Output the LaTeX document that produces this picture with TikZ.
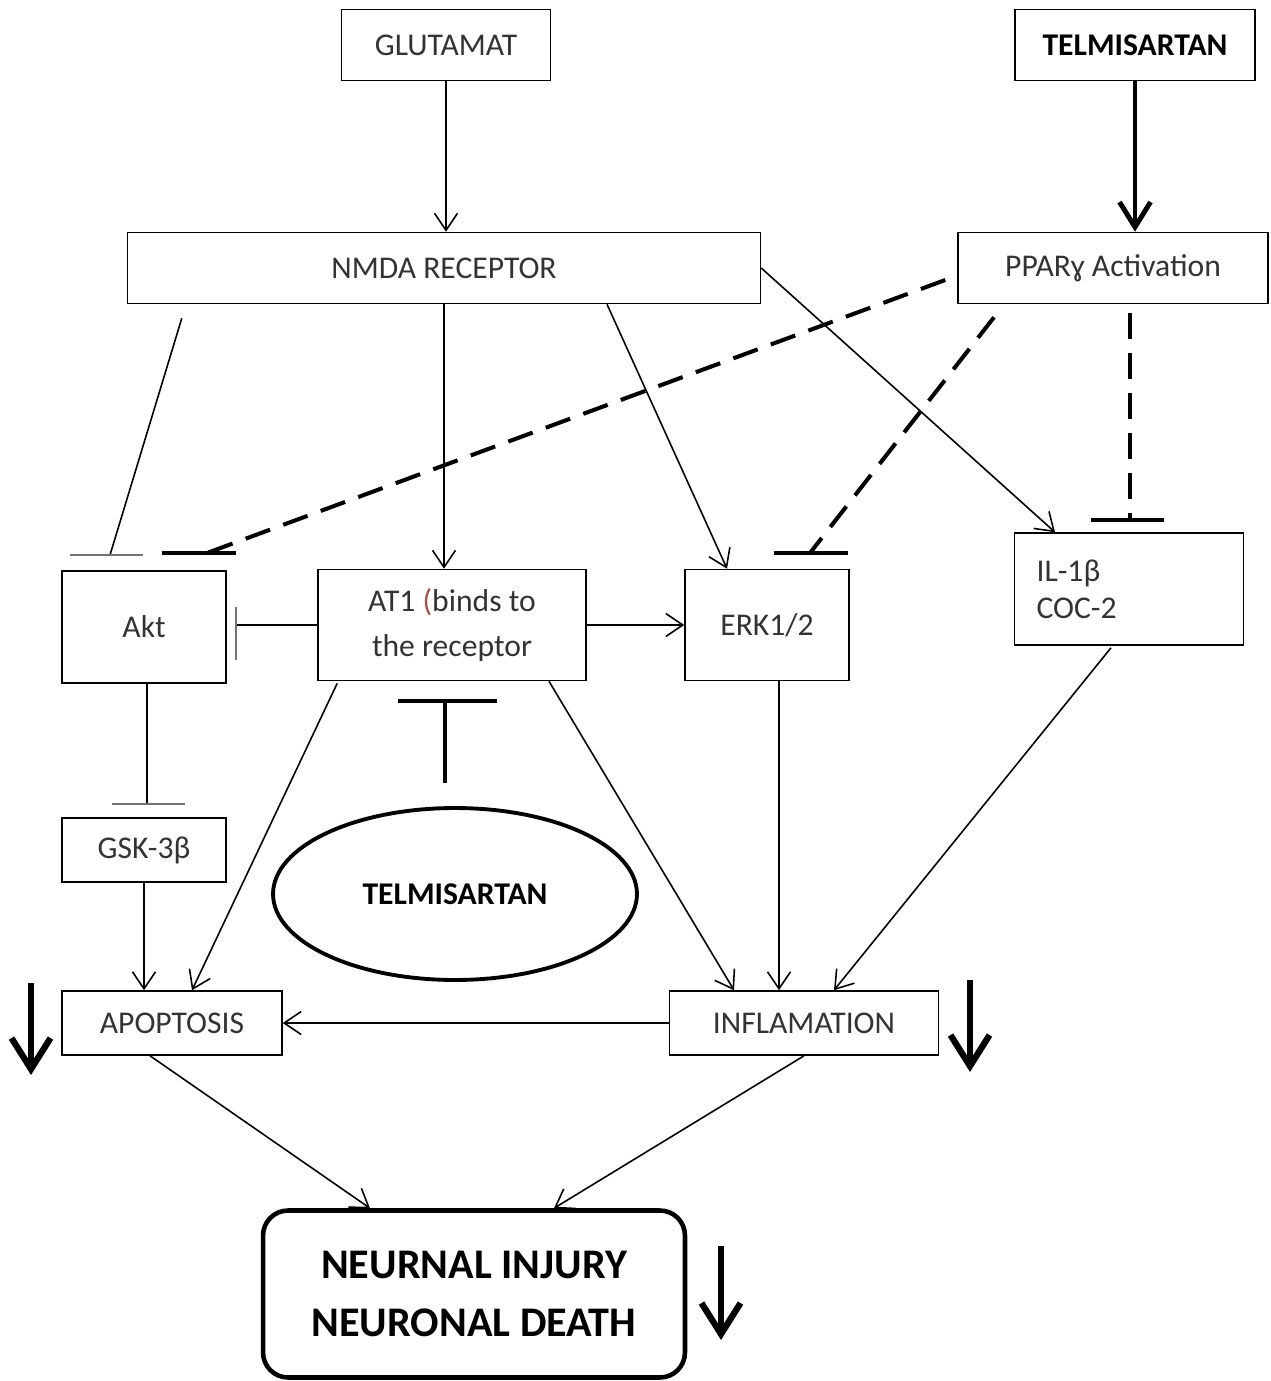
\documentclass[tikz,border=0pt]{standalone}
\usepackage{fontspec}
\setmainfont{Carlito}
\usetikzlibrary{arrows.meta,calc,shapes.geometric}
\definecolor{paren}{RGB}{160,80,70}

\begin{document}
\begin{tikzpicture}[x = 0.02cm, y = -0.02cm]
\tikzstyle{BoxStyle}=[draw, line width = 0.9pt,
                      inner sep = 0pt, align = center,
                      text = black!80,
                      font = \fontsize{18}{26}\selectfont]
\tikzstyle{EdgeStyle}=[line width = 0.9pt, -{Straight Barb[length = 0.34cm, width = 0.46cm]}]
\tikzstyle{BarStyle}=[line width = 0.9pt]
\tikzstyle{ThickStyle}=[line width = 2.3pt]
\tikzstyle{DashStyle}=[line width = 2.3pt, dash pattern = on 0.52cm off 0.28cm]
\tikzstyle{TopStyle}=[line width = 2.8pt, -{Straight Barb[length = 0.5cm, width = 0.62cm]}]
\tikzstyle{DownStyle}=[line width = 3.6pt, -{Straight Barb[length = 0.62cm, width = 0.78cm]}]
\useasboundingbox (0,0) rectangle (1270,1381);
% boxes
\node[BoxStyle, minimum width = 4.18cm, minimum height = 1.42cm] (glu) at (446,45) {GLUTAMAT};
\node[BoxStyle, minimum width = 4.8cm, minimum height = 1.42cm, text = black,
      font = \bfseries\fontsize{18}{22}\selectfont] (tel) at (1135,45) {TELMISARTAN};
\node[BoxStyle, minimum width = 12.66cm, minimum height = 1.42cm] (nmda) at (444,268) {NMDA RECEPTOR};
\node[BoxStyle, minimum width = 6.2cm, minimum height = 1.42cm] (ppar) at (1113,268) {PPARɣ Activation};
\node[BoxStyle, minimum width = 3.28cm, minimum height = 2.24cm] (akt) at (144,627) {Akt};
\node[BoxStyle, minimum width = 5.36cm, minimum height = 2.22cm] (at1) at (452,625) {AT1 {\color{paren}(}binds to\\the receptor};
\node[BoxStyle, minimum width = 3.28cm, minimum height = 2.22cm] (erk) at (767,625) {ERK1/2};
\node[BoxStyle, text width = 3.7cm, inner xsep = 0.44cm, minimum height = 2.24cm, align = left,
      font = \fontsize{18}{21}\selectfont] (il) at (1129,589) {IL-1β\\COC-2};
\node[BoxStyle, minimum width = 3.28cm, minimum height = 1.28cm] (gsk) at (144,850) {GSK-3β};
\node[ellipse, draw, line width = 2.2pt, minimum width = 7.28cm, minimum height = 3.44cm,
      inner sep = 0pt, font = \bfseries\fontsize{18}{22}\selectfont] (ell) at (455,894) {TELMISARTAN};
\node[BoxStyle, minimum width = 4.4cm, minimum height = 1.28cm] (apo) at (172,1023) {APOPTOSIS};
\node[BoxStyle, minimum width = 5.38cm, minimum height = 1.28cm] (inf) at (804,1023) {INFLAMATION};
\node[BoxStyle, rounded corners = 0.5cm, line width = 2.6pt, minimum width = 8.44cm,
      minimum height = 3.34cm, text = black,
      font = \bfseries\fontsize{24}{33}\selectfont] (neur) at (474,1294) {NEURNAL INJURY\\NEURONAL DEATH};
% bar points
\coordinate (b0) at (110,555);
\coordinate (b1) at (207,553);
\coordinate (b2) at (810,553);
\coordinate (b3) at (1130,520);
\coordinate (b4) at (236,625);
\coordinate (b5) at (147,804);
\coordinate (b6) at (445,701);
% down arrows
\coordinate (d0) at (31,983);
\coordinate (d1) at (31,1075);
\coordinate (d2) at (970,980);
\coordinate (d3) at (970,1072);
\coordinate (d4) at (721,1246);
\coordinate (d5) at (721,1340);
% connectors
\draw[EdgeStyle] (glu.south) -- (glu.south |- nmda.north);
\draw[TopStyle] (tel.south) -- (tel.south |- ppar.north);
\draw[EdgeStyle] (nmda.south) -- (nmda.south |- at1.north);
\draw[EdgeStyle] ($(nmda.south)+(163,0)$) -- ($(erk.north)+(-40,0)$);
\draw[EdgeStyle] (nmda.east) -- ($(il.north)+(-74,0)$);
\draw[BarStyle] ($(nmda.south west)+(55,14)$) -- (b0);
\draw[BarStyle, black!55] ($(b0)+(-40,0)$) -- ($(b0)+(33,0)$);
\draw[DashStyle] ($(ppar.west)+(-12,12)$) -- (b1);
\draw[ThickStyle] ($(b1)+(-45,0)$) -- ($(b1)+(29,0)$);
\draw[DashStyle] ($(ppar.south)+(-119,13)$) -- (b2);
\draw[ThickStyle] ($(b2)+(-36,0)$) -- ($(b2)+(38,0)$);
\draw[DashStyle] ($(ppar.south)+(17,9)$) -- (b3);
\draw[ThickStyle] ($(b3)+(-39,0)$) -- ($(b3)+(34,0)$);
\draw[BarStyle] (at1.west) -- (b4);
\draw[BarStyle, black!55] ($(b4)+(0,-18)$) -- ($(b4)+(0,35)$);
\draw[EdgeStyle] (at1.east) -- (erk.west);
\draw[BarStyle] ($(akt.south)+(3,0)$) -- (b5);
\draw[BarStyle, black!55] ($(b5)+(-35,0)$) -- ($(b5)+(38,0)$);
\draw[ThickStyle] ($(ell.north)+(-10,-23)$) -- (b6);
\draw[ThickStyle] ($(b6)+(-47,0)$) -- ($(b6)+(52,0)$);
\draw[EdgeStyle] (gsk.south) -- (gsk.south |- apo.north);
\draw[EdgeStyle] ($(at1.south west)+(20,2)$) -- ($(apo.north)+(20,0)$);
\draw[EdgeStyle] ($(at1.south)+(97,0)$) -- ($(inf.north)+(-70,0)$);
\draw[EdgeStyle] ($(erk.south)+(12,0)$) -- ($(inf.north)+(-25,0)$);
\draw[EdgeStyle] ($(il.south)+(-18,2)$) -- ($(inf.north)+(30,0)$);
\draw[EdgeStyle] (inf.west) -- (apo.east);
\draw[EdgeStyle] ($(apo.south)+(-22,0)$) -- ($(neur.north)+(-104,0)$);
\draw[EdgeStyle] (inf.south) -- ($(neur.north)+(80,0)$);
\draw[DownStyle] (d0) -- (d1);
\draw[DownStyle] (d2) -- (d3);
\draw[DownStyle] (d4) -- (d5);
\end{tikzpicture}
\end{document}
